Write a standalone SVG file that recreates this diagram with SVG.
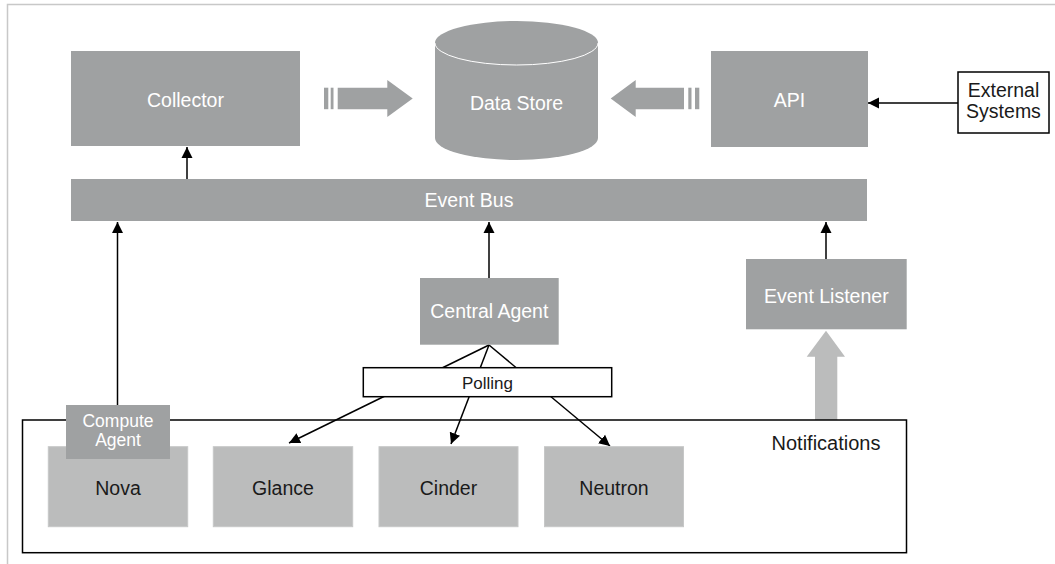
<svg xmlns="http://www.w3.org/2000/svg" width="1055" height="564" viewBox="0 0 1055 564">
<style>
.dk{fill:#9fa1a2}
.lt{fill:#bbbcbc;stroke:#c6c7c7;stroke-width:1}
.wt{font-family:"Liberation Sans",Arial,sans-serif;font-size:19.5px;fill:#ffffff;text-anchor:middle}
.bt{font-family:"Liberation Sans",Arial,sans-serif;font-size:19.5px;fill:#1a1a1a;text-anchor:middle}
.ln{stroke:#000;stroke-width:1.5;fill:none}
</style>
<defs>
<marker id="ah" markerUnits="userSpaceOnUse" markerWidth="12" markerHeight="12" viewBox="0 0 12 12" refX="11" refY="6" orient="auto">
<path d="M0,0.5 L11,6 L0,11.5 Z" fill="#000"/>
</marker>
</defs>
<rect width="1055" height="564" fill="#fff"/>
<path d="M7.5,564 L7.5,4.5 L1055,4.5" fill="none" stroke="#c8c8c8" stroke-width="1.5"/>

<g id="connectors">
<line class="ln" x1="187" y1="179" x2="187" y2="147" marker-end="url(#ah)"/>
<line class="ln" x1="958" y1="103" x2="868" y2="103" marker-end="url(#ah)"/>
<line class="ln" x1="117.5" y1="405" x2="117.5" y2="222" marker-end="url(#ah)"/>
<line class="ln" x1="489" y1="278" x2="489" y2="222" marker-end="url(#ah)"/>
<line class="ln" x1="826" y1="259" x2="826" y2="222" marker-end="url(#ah)"/>
<line class="ln" x1="489" y1="345" x2="289" y2="443" marker-end="url(#ah)"/>
<line class="ln" x1="489" y1="345" x2="451" y2="444" marker-end="url(#ah)"/>
<line class="ln" x1="489" y1="345" x2="610" y2="446" marker-end="url(#ah)"/>
<g id="flow-left" class="dk">
<rect x="324" y="87.7" width="4.3" height="21.5"/>
<rect x="330.7" y="87.7" width="2.8" height="21.5"/>
<polygon points="337.7,87.7 387.3,87.7 387.3,80 412.7,98.5 387.3,117 387.3,109.2 337.7,109.2"/>
</g>
<g id="flow-right" class="dk">
<rect x="695" y="87.7" width="4.3" height="21.5"/>
<rect x="688.3" y="87.7" width="3.2" height="21.5"/>
<polygon points="684,87.7 635.7,87.7 635.7,80 610.7,98.5 635.7,117 635.7,109.2 684,109.2"/>
</g>
<polygon id="notify-arrow" fill="#bbbcbc" points="815,420 815,356.7 806.7,356.7 826,330.7 845,356.7 837.3,356.7 837.3,420"/>
</g>

<g id="collector">
<rect class="dk" x="71" y="51" width="229" height="95"/>
<text class="wt" x="185.5" y="106.5">Collector</text>
</g>
<g id="datastore">
<path class="dk" d="M435,43 L435,138 A81.5,22 0 0 0 598,138 L598,43 A81.5,22 0 0 0 435,43 Z"/>
<path d="M435,43 A81.5,22 0 0 0 598,43" fill="none" stroke="#fff" stroke-width="1"/>
<text class="wt" x="516.5" y="110">Data Store</text>
</g>
<g id="api">
<rect class="dk" x="711" y="51" width="157" height="96"/>
<text class="wt" x="789.5" y="106.5">API</text>
</g>
<g id="external">
<rect x="958" y="72" width="91" height="61" fill="#fff" stroke="#000" stroke-width="1.5"/>
<text class="bt" x="1003.5" y="97.3">External</text>
<text class="bt" x="1003.5" y="117.7">Systems</text>
</g>
<g id="eventbus">
<rect class="dk" x="71" y="179" width="796" height="42"/>
<text class="wt" x="469" y="207">Event Bus</text>
</g>
<g id="centralagent">
<rect class="dk" x="420" y="278" width="138.7" height="66.7"/>
<text class="wt" x="489.3" y="317.7">Central Agent</text>
</g>
<g id="polling">
<rect x="363.3" y="367.7" width="248.4" height="29" fill="#fff" stroke="#000" stroke-width="1.5"/>
<text class="bt" x="487.5" y="389.3" style="font-size:17px">Polling</text>
</g>
<g id="eventlistener">
<rect class="dk" x="746" y="259" width="160.7" height="70.3"/>
<text class="wt" x="826.3" y="303">Event Listener</text>
</g>
<g id="notifications">
<rect x="22.5" y="420" width="884" height="132.7" fill="none" stroke="#000" stroke-width="1.5"/>
<text class="bt" x="826" y="450" style="font-size:20px">Notifications</text>
</g>
<g id="nova">
<rect class="lt" x="48.3" y="446.7" width="139.4" height="80"/>
<text class="bt" x="118" y="494.5">Nova</text>
</g>
<g id="computeagent">
<rect class="dk" x="66" y="405" width="104" height="54"/>
<text class="wt" x="118" y="426.7" style="font-size:17.5px">Compute</text>
<text class="wt" x="118" y="446" style="font-size:17.5px">Agent</text>
</g>
<g id="glance">
<rect class="lt" x="213.3" y="446.7" width="139.4" height="80"/>
<text class="bt" x="283" y="494.5">Glance</text>
</g>
<g id="cinder">
<rect class="lt" x="379" y="446.7" width="139" height="80"/>
<text class="bt" x="448.5" y="494.5">Cinder</text>
</g>
<g id="neutron">
<rect class="lt" x="544.5" y="446.7" width="139" height="80"/>
<text class="bt" x="614" y="494.5">Neutron</text>
</g>
</svg>
